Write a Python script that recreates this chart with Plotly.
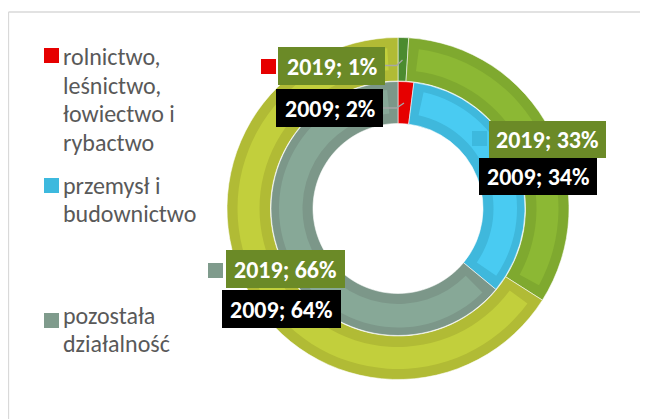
import plotly.graph_objects as go

# ---------------- data ----------------
categories = [
    "rolnictwo, leśnictwo, łowiectwo i rybactwo",
    "przemysł i budownictwo",
    "pozostała działalność",
]
legend_lines = [
    ["rolnictwo,", "leśnictwo,", "łowiectwo i", "rybactwo"],
    ["przemysł i", "budownictwo"],
    ["pozostała", "działalność"],
]
years = ["2019", "2009"]
values_2019 = [1, 33, 66]
values_2009 = [2, 34, 64]

# ---------------- styling ----------------
OX, OY = 8, 8          # page offset of the figure (browser body margin)
W, H = 640, 411
CX, CY = 398, 208.5    # ring centre, page pixels
FONT = "Carlito, Lato, sans-serif"

outer_dark = ["#4b8b2f", "#7fa92f", "#b1bb35"]
outer_light = ["#4b8b2f", "#8cb834", "#c2cf3c"]
inner_dark = ["#e60000", "#3fb8dc", "#7c9789"]
inner_light = ["#e60000", "#49cbf2", "#87a897"]
key_colors = ["#e60000", "#3db9de", "#7f9b8c"]
CLEAR = "rgba(0,0,0,0)"


def px(x):
    return (x - OX) / W


def py(y):
    return 1 - (y - OY) / H


def dom(r):
    return dict(x=[px(CX - r), px(CX + r)], y=[py(CY + r), py(CY - r)])


def ring(values, colors, labels, r_out, r_in, line=True):
    return go.Pie(
        values=values,
        labels=labels,
        marker=dict(colors=colors,
                    line=dict(color="rgba(255,255,255,0.7)" if line else CLEAR,
                              width=0.8 if line else 0)),
        hole=r_in / r_out,
        domain=dom(r_out),
        sort=False,
        direction="clockwise",
        rotation=0,
        textinfo="none",
        showlegend=False,
        hoverinfo="skip",
    )


def inset(values, colors, gap, tag):
    vals, cols, labs = [], [], []
    for i, (v, c) in enumerate(zip(values, colors)):
        inner = v - 2 * gap
        if inner > 0:
            vals += [gap, inner, gap]
            cols += [CLEAR, c, CLEAR]
            labs += [f"{tag}{i}a", f"{tag}{i}b", f"{tag}{i}c"]
        else:
            vals += [v]
            cols += [CLEAR]
            labs += [f"{tag}{i}a"]
    return vals, cols, labs


fig = go.Figure()
# outer ring (2019)
fig.add_trace(ring(values_2019, outer_dark, categories, 171, 127.5))
v, c, l = inset(values_2019, outer_light, 1.07, "o")
fig.add_trace(ring(v, c, l, 160.5, 138.5, line=False))
# inner ring (2009)
fig.add_trace(ring(values_2009, inner_dark, categories, 127, 85))
v, c, l = inset(values_2009, inner_light, 1.45, "i")
fig.add_trace(ring(v, c, l, 119, 95.5, line=False))

shapes = []
annotations = []

# frame
shapes.append(dict(type="line", xref="paper", yref="paper", x0=px(8.5), x1=px(8.5),
                   y0=py(12), y1=py(430), line=dict(color="#d9d9d9", width=1.3)))
shapes.append(dict(type="line", xref="paper", yref="paper", x0=px(8.5), x1=px(660),
                   y0=py(12), y1=py(12), line=dict(color="#d9d9d9", width=1.3)))

# legend
legend_keys = [(44, 48), (44, 178), (44, 313)]
legend_first = [56.7, 185, 315]
LINE_H = 28.5
for i, lines in enumerate(legend_lines):
    kx, ky = legend_keys[i]
    shapes.append(dict(type="rect", xref="paper", yref="paper", x0=px(kx), x1=px(kx + 15),
                       y0=py(ky), y1=py(ky + 15), fillcolor=key_colors[i], line=dict(width=0),
                       layer="above"))
    for j, txt in enumerate(lines):
        annotations.append(dict(xref="paper", yref="paper", x=px(61),
                                y=py(legend_first[i] + j * LINE_H),
                                xanchor="left", yanchor="middle", align="left", showarrow=False,
                                text=txt, font=dict(family=FONT, size=24, color="#595959")))

# data labels
boxes_2019 = [(278, 47, 385, 85), (489, 121, 606, 158), (226, 250, 345, 288)]
boxes_2009 = [(276, 89, 383, 127), (479, 158, 597, 195), (222, 290, 341, 328)]
label_keys = [(261, 59), (472, 131), (208, 263)]

# leader lines
leaders = [
    [(385, 65.5), (396.5, 65.5), (402.5, 60)],
    [(383, 108), (396.5, 108), (404, 103)],
]
for pts in leaders:
    path = "M " + " L ".join(f"{px(x)},{py(y)}" for x, y in pts)
    shapes.append(dict(type="path", xref="paper", yref="paper", path=path,
                       line=dict(color="#a6a6a6", width=1.3), layer="above"))

for i in range(3):
    kx, ky = label_keys[i]
    shapes.append(dict(type="rect", xref="paper", yref="paper", x0=px(kx), x1=px(kx + 15),
                       y0=py(ky), y1=py(ky + 15), fillcolor=key_colors[i], line=dict(width=0),
                       layer="above"))
    for year, vals, boxes, bg in ((years[0], values_2019, boxes_2019, "#6b8a27"),
                                  (years[1], values_2009, boxes_2009, "#000000")):
        x0, y0, x1, y1 = boxes[i]
        shapes.append(dict(type="rect", xref="paper", yref="paper", x0=px(x0), x1=px(x1),
                           y0=py(y0), y1=py(y1), fillcolor=bg, line=dict(width=0),
                           layer="above"))
        annotations.append(dict(xref="paper", yref="paper", x=px((x0 + x1) / 2),
                                y=py((y0 + y1) / 2), xanchor="center", yanchor="middle",
                                showarrow=False, text=f"{year}; {vals[i]}%",
                                font=dict(family=FONT, size=24, color="white", weight=700)))

fig.update_layout(
    width=W, height=H,
    margin=dict(l=0, r=0, t=0, b=0),
    paper_bgcolor="white", plot_bgcolor="white",
    shapes=shapes, annotations=annotations,
    showlegend=False,
)
fig.write_html("out.html")
